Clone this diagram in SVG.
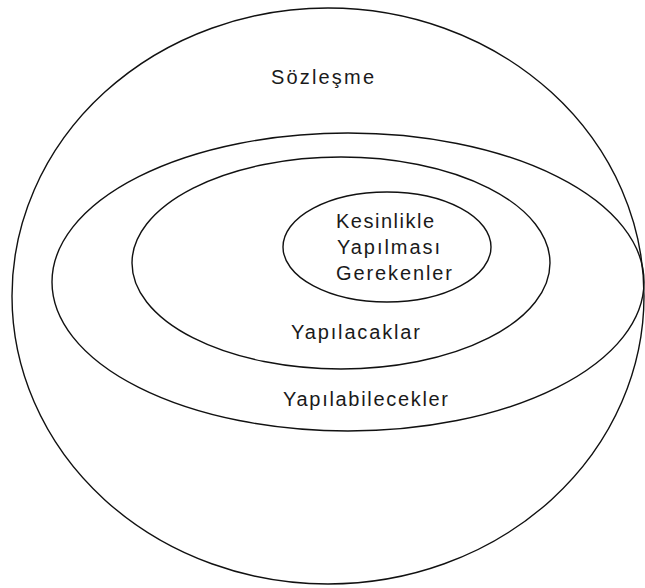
<svg xmlns="http://www.w3.org/2000/svg" width="645" height="588" viewBox="0 0 645 588">
<style>
.ring{fill:none;stroke:#111;stroke-width:1.4}
.lbl{font-family:"Liberation Sans",Arial,sans-serif;font-size:20px;fill:#1a1a1a}
</style>
<rect width="645" height="588" fill="#fff"/>
<g id="sozlesme">
<ellipse class="ring" cx="328" cy="296" rx="316" ry="288"/>
<text class="lbl" x="271" y="84" textLength="103" lengthAdjust="spacing">Sözleşme</text>
</g>
<g id="yapilabilecekler">
<ellipse class="ring" cx="348" cy="282" rx="296" ry="149"/>
<text class="lbl" x="283" y="406" textLength="165" lengthAdjust="spacing">Yapılabilecekler</text>
</g>
<g id="yapilacaklar">
<ellipse class="ring" cx="341" cy="263" rx="209" ry="106"/>
<text class="lbl" x="291" y="339" textLength="129" lengthAdjust="spacing">Yapılacaklar</text>
</g>
<g id="kesinlikle">
<ellipse class="ring" cx="387" cy="247" rx="104" ry="55"/>
<text class="lbl" x="336" y="228" textLength="98" lengthAdjust="spacing">Kesinlikle</text>
<text class="lbl" x="337" y="254" textLength="103" lengthAdjust="spacing">Yapılması</text>
<text class="lbl" x="336" y="280" textLength="116" lengthAdjust="spacing">Gerekenler</text>
</g>
<g id="connectors"/>
</svg>
